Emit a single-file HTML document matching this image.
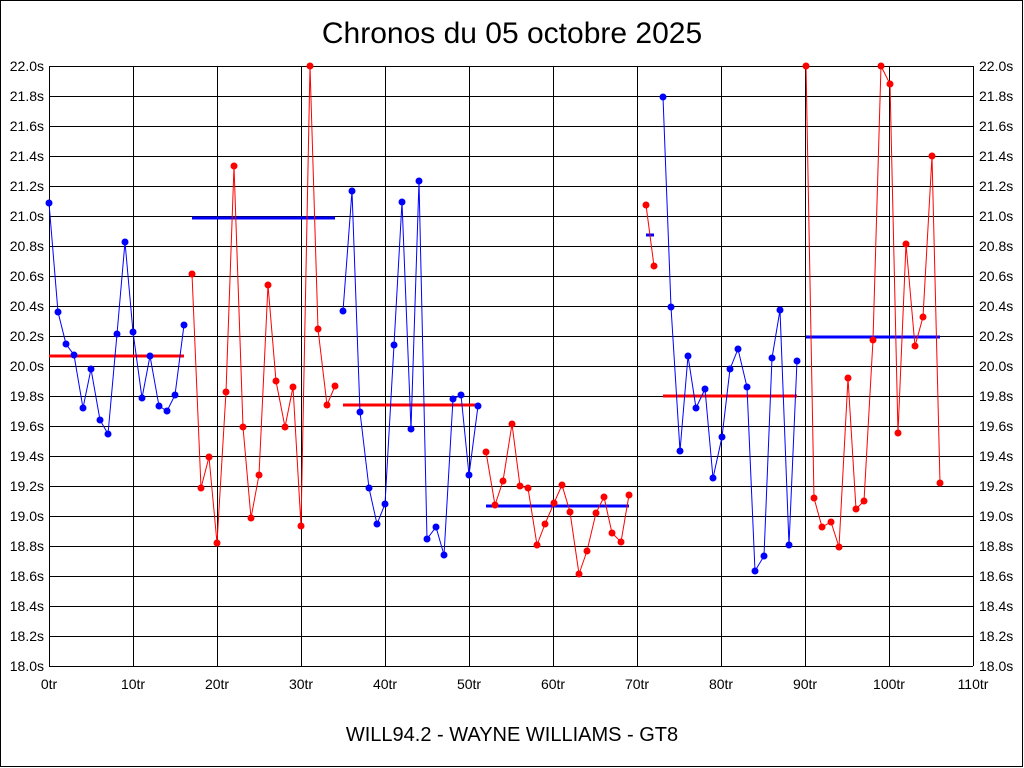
<!DOCTYPE html>
<html><head><meta charset="utf-8"><style>
html,body{margin:0;padding:0;background:#fff;}
svg{display:block;}
text{font-family:"Liberation Sans",Arial,sans-serif;fill:#000;}
</style></head><body>
<svg width="1024" height="768" viewBox="0 0 1024 768" xmlns="http://www.w3.org/2000/svg">
<rect x="0.5" y="0.5" width="1022" height="766" fill="#fff" stroke="#000" stroke-width="1"/>
<text x="512" y="43" font-size="30" text-anchor="middle">Chronos du 05 octobre 2025</text>
<text x="512" y="741" font-size="20" text-anchor="middle">WILL94.2 - WAYNE WILLIAMS - GT8</text>
<g id="grid" stroke="#000" stroke-width="1" shape-rendering="crispEdges"></g>
<g id="labels" font-size="14"></g>
<g id="data"></g>
</svg>
<script>
const g=document.getElementById('grid'),L=document.getElementById('labels'),D=document.getElementById('data');
const NS='http://www.w3.org/2000/svg';
function el(p,t,a,txt){const e=document.createElementNS(NS,t);for(const k in a)e.setAttribute(k,a[k]);if(txt)e.textContent=txt;p.appendChild(e);return e;}
for(let i=0;i<=20;i++){const y=66+i*30;el(g,'line',{x1:49,x2:973,y1:y+0.5,y2:y+0.5});
 const v=(22-i*0.2).toFixed(1)+'s';
 el(L,'text',{x:44,y:y+5,'text-anchor':'end'},v);el(L,'text',{x:979,y:y+5},v);}
for(let k=0;k<=11;k++){const x=49+84*k;el(g,'line',{x1:x+0.5,x2:x+0.5,y1:66,y2:666});
 el(L,'text',{x:x,y:689,'text-anchor':'middle'},(k*10)+'tr');}
const segs=[
['blue',[[49,203],[58,312],[66,344],[74,355],[83,408],[91,369],[100,420],[108,434],[117,334],[125,242],[133,332],[142,398],[150,356],[159,406],[167,411],[175,395],[184,325]],'red',356],
['red',[[192,274],[201,488],[209,457],[217,543],[226,392],[234,166],[243,427],[251,518],[259,475],[268,285],[276,381],[285,427],[293,387],[301,526],[310,66],[318,329],[327,405],[335,386]],'blue',218],
['blue',[[343,311],[352,191],[360,412],[369,488],[377,524],[385,504],[394,345],[402,202],[411,429],[419,181],[427,539],[436,527],[444,555],[453,399],[461,395],[469,475],[478,406]],'red',405],
['red',[[486,452],[495,505],[503,481],[512,424],[520,486],[528,488],[537,545],[545,524],[554,503],[562,485],[570,512],[579,574],[587,551],[596,513],[604,497],[612,533],[621,542],[629,495]],'blue',506],
['red',[[646,205],[654,266]],'blue',235],
['blue',[[663,97],[671,307],[680,451],[688,356],[696,408],[705,389],[713,478],[722,437],[730,369],[738,349],[747,387],[755,571],[764,556],[772,358],[780,310],[789,545],[797,361]],'red',396],
['red',[[806,66],[814,498],[822,527],[831,522],[839,547],[848,378],[856,509],[864,501],[873,340],[881,66],[890,84],[898,433],[906,244],[915,346],[923,317],[932,156],[940,483]],'blue',337]];
for(const [c,pts,mc,my] of segs){
 const x0=pts[0][0],x1=pts[pts.length-1][0];
 el(D,'line',{x1:x0,x2:x1,y1:my,y2:my,stroke:mc,'stroke-width':3});
 el(D,'polyline',{points:pts.map(p=>p.join(',')).join(' '),fill:'none',stroke:c,'stroke-width':1});
 for(const p of pts)el(D,'circle',{cx:p[0],cy:p[1],r:3.5,fill:c});
}
</script>
</body></html>
